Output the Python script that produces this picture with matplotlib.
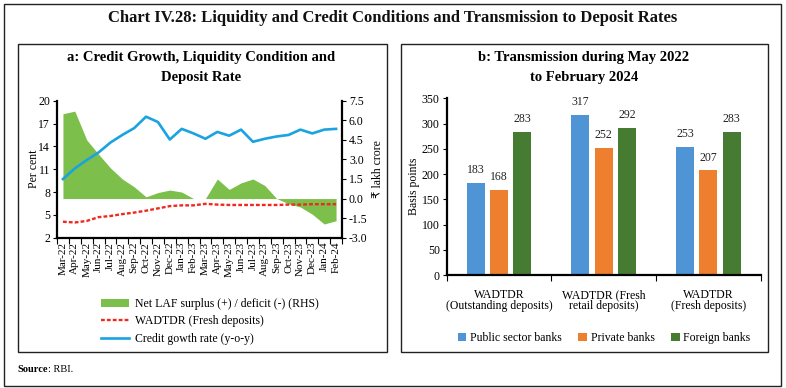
import matplotlib
matplotlib.use("Agg")
import matplotlib.pyplot as plt
import numpy as np
from matplotlib.patches import Patch, Rectangle
from matplotlib.lines import Line2D

plt.rcParams['font.family'] = ['Liberation Serif', 'DejaVu Sans']
plt.rcParams['axes.unicode_minus'] = False

# ---------------- data ----------------
months = ["Mar-22", "Apr-22", "May-22", "Jun-22", "Jul-22", "Aug-22", "Sep-22", "Oct-22",
          "Nov-22", "Dec-22", "Jan-23", "Feb-23", "Mar-23", "Apr-23", "May-23", "Jun-23",
          "Jul-23", "Aug-23", "Sep-23", "Oct-23", "Nov-23", "Dec-23", "Jan-24", "Feb-24"]
credit_growth = [9.7, 11.1, 12.2, 13.2, 14.5, 15.5, 16.4, 17.9, 17.2, 14.9, 16.3, 15.7,
                 15.0, 15.9, 15.4, 16.2, 14.6, 15.0, 15.3, 15.5, 16.2, 15.7, 16.2, 16.3]
wadtdr_fresh = [4.1, 4.0, 4.2, 4.7, 4.85, 5.1, 5.3, 5.55, 5.85, 6.15, 6.25, 6.25,
                6.45, 6.35, 6.3, 6.3, 6.3, 6.3, 6.3, 6.35, 6.35, 6.4, 6.4, 6.4]
net_laf = [6.5, 6.7, 4.5, 3.4, 2.35, 1.5, 0.9, 0.13, 0.46, 0.65, 0.5, 0.0,
           0.0, 1.5, 0.7, 1.2, 1.5, 1.0, 0.0, -0.4, -0.65, -1.2, -1.95, -1.7]

bar_categories = ["WADTDR\n(Outstanding deposits)", "WADTDR (Fresh\nretail deposits)",
                  "WADTDR\n(Fresh deposits)"]
public_banks = [183, 317, 253]
private_banks = [168, 252, 207]
foreign_banks = [283, 292, 283]

# ---------------- figure ----------------
W, H = 786, 388
fig = plt.figure(figsize=(W / 100, H / 100), dpi=100)


def rect(x0, y0, x1, y1):
    return [x0 / W, 1 - y1 / H, (x1 - x0) / W, (y1 - y0) / H]


def fx(x):
    return x / W


def fy(y):
    return 1 - y / H


# frames
fig.patches.append(Rectangle((fx(4), fy(386)), fx(777), (382) / H, transform=fig.transFigure,
                             fill=False, lw=1.0, ec='#222222'))
fig.patches.append(Rectangle((fx(18), fy(352)), fx(369), (308) / H, transform=fig.transFigure,
                             fill=False, lw=1.0, ec='#222222'))
fig.patches.append(Rectangle((fx(401), fy(352)), fx(367), (308) / H, transform=fig.transFigure,
                             fill=False, lw=1.0, ec='#222222'))

fig.text(fx(393), fy(18), "Chart IV.28: Liquidity and Credit Conditions and Transmission to Deposit Rates",
         ha='center', va='center', fontsize=12, fontweight='bold', color='#111111')
fig.text(fx(17), fy(370), "Source", ha='left', va='center', fontsize=7.5, fontweight='bold')
fig.text(fx(48), fy(370), ": RBI.", ha='left', va='center', fontsize=7.5)

# ---------------- panel a ----------------
fig.text(fx(201), fy(58), "a: Credit Growth, Liquidity Condition and", ha='center', va='center',
         fontsize=10.5, fontweight='bold')
fig.text(fx(201), fy(77), "Deposit Rate", ha='center', va='center', fontsize=10.5, fontweight='bold')

ax = fig.add_axes(rect(57, 100.7, 342, 237.7))
ax2 = ax.twinx()
x = np.arange(len(months))

ax2.fill_between(x, 0, net_laf, color='#7DBF4B', lw=0)
ax2.set_ylim(-3.0, 7.5)
ax2.set_yticks(np.arange(-3.0, 7.6, 1.5))
ax2.set_yticklabels([f"{v:.1f}" for v in np.arange(-3.0, 7.6, 1.5)])
ax2.set_ylabel("₹ lakh crore", fontsize=8.5, labelpad=3)

ax.set_zorder(ax2.get_zorder() + 1)
ax.patch.set_visible(False)
ax.plot(x, wadtdr_fresh, color='#F0281E', lw=1.7, ls=(0, (1.6, 0.9)))
ax.plot(x, credit_growth, color='#1AA3E0', lw=1.9)
ax.set_ylim(2, 20)
ax.set_yticks(np.arange(2, 21, 3))
ax.set_ylabel("Per cent", fontsize=8.5, labelpad=-1)
ax.set_xlim(-0.5, len(months) - 0.5)
ax.set_xticks(x)
ax.set_xticklabels(months, rotation=90, fontsize=8)
ax.set_xticks(np.arange(-0.5, len(months), 1), minor=True)
ax.tick_params(axis='x', which='major', length=0, pad=3)
ax.tick_params(axis='x', which='minor', length=4, width=0.8)
ax.tick_params(axis='y', labelsize=8.5, length=3, width=0.8, pad=2)
ax2.tick_params(axis='y', labelsize=8.5, length=3, width=0.8, pad=2)
for a in (ax, ax2):
    a.spines['top'].set_visible(False)
    for s in ('left', 'right', 'bottom'):
        a.spines[s].set_linewidth(1.6)
ax.spines['right'].set_visible(False)
ax2.spines['left'].set_visible(False)
ax2.spines['bottom'].set_visible(False)

handles_a = [Patch(facecolor='#7DBF4B', edgecolor='none'),
             Line2D([], [], color='#F0281E', lw=1.7, ls=(0, (1.6, 0.9))),
             Line2D([], [], color='#1AA3E0', lw=1.9)]
labels_a = ["Net LAF surplus (+) / deficit (-) (RHS)", "WADTDR (Fresh deposits)",
            "Credit gowth rate (y-o-y)"]
fig.legend(handles_a, labels_a, loc='upper left', bbox_to_anchor=(fx(101), fy(298)),
           frameon=False, fontsize=8.5, handlelength=2.4, handleheight=0.6,
           handletextpad=0.5, labelspacing=0.45, borderpad=0, borderaxespad=0)

# ---------------- panel b ----------------
fig.text(fx(584), fy(58), "b: Transmission during May 2022", ha='center', va='center',
         fontsize=10.5, fontweight='bold')
fig.text(fx(584), fy(77), "to February 2024", ha='center', va='center', fontsize=10.5,
         fontweight='bold')

bx = fig.add_axes(rect(446.7, 98.3, 760.7, 275))
xb = np.arange(len(bar_categories))
bw = 0.172
off = 0.222
series = [(public_banks, '#4F94D4', "Public sector banks"),
          (private_banks, '#EE7F2E', "Private banks"),
          (foreign_banks, '#467C31', "Foreign banks")]
bars_h = []
for i, (vals, col, lab) in enumerate(series):
    b = bx.bar(xb + (i - 1) * off, vals, width=bw, color=col, label=lab)
    bars_h.append(b)
    bx.bar_label(b, labels=[str(v) for v in vals], padding=5, fontsize=8.5, color='#222222')
bx.set_ylim(0, 350)
bx.set_yticks(np.arange(0, 351, 50))
bx.set_xlim(-0.5, len(bar_categories) - 0.5)
bx.set_xticks(xb)
bx.set_xticklabels(bar_categories, fontsize=8.5)
for t in bx.get_xticklabels():
    t.set_linespacing(0.95)
bx.set_xticks(np.arange(-0.5, len(bar_categories), 1), minor=True)
bx.tick_params(axis='x', which='major', length=0, pad=10)
bx.tick_params(axis='x', which='minor', length=4, width=0.8)
bx.tick_params(axis='y', labelsize=8.5, length=3, width=0.8, pad=2)
bx.set_ylabel("Basis points", fontsize=8.5, labelpad=1)
bx.spines['top'].set_visible(False)
bx.spines['right'].set_visible(False)
bx.spines['left'].set_linewidth(1.6)
bx.spines['bottom'].set_linewidth(1.6)

fig.legend(bars_h, [s[2] for s in series], loc='center', bbox_to_anchor=(fx(604), fy(338)),
           ncol=3, frameon=False, fontsize=8.5, handlelength=0.75, handleheight=0.75,
           handletextpad=0.3, columnspacing=1.4, borderpad=0, borderaxespad=0)

fig.savefig("out.png", dpi=100)
